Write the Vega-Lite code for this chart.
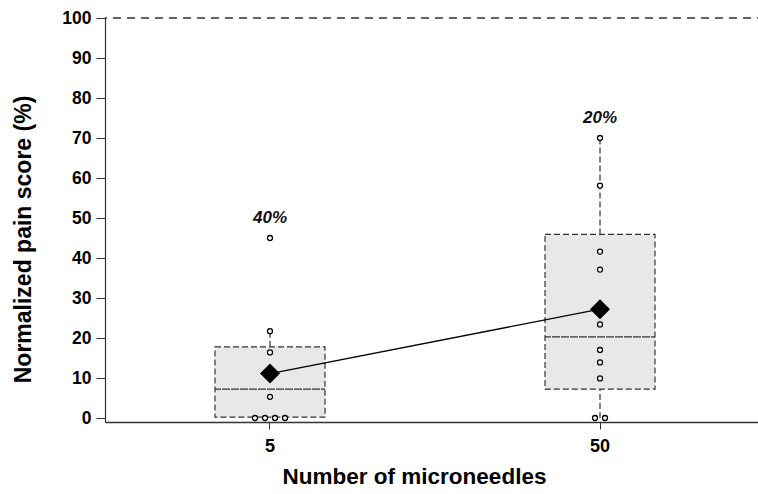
{
  "$schema": "https://vega.github.io/schema/vega-lite/v6.json",
  "width": 660,
  "height": 404,
  "autosize": {"type": "none"},
  "padding": {"left": 105, "top": 18, "right": 0, "bottom": 72},
  "config": {
    "view": {"stroke": null},
    "font": "Liberation Sans Narrow, Arial Narrow, Liberation Sans, Arial, sans-serif",
    "axisX": {
      "labelAngle": 0,
      "labelFontSize": 18,
      "labelFontWeight": "bold",
      "labelColor": "black",
      "labelPadding": 8,
      "tickSize": 7,
      "tickColor": "#333333",
      "domainColor": "#333333",
      "domainWidth": 1.5,
      "titleFontSize": 22.5,
      "titleFontWeight": "bold",
      "titleColor": "black",
      "titlePadding": 10,
      "titleX": 309,
      "grid": false
    },
    "axisY": {
      "labelFontSize": 17.5,
      "labelFontWeight": "bold",
      "labelColor": "black",
      "labelPadding": 5,
      "tickSize": 9,
      "tickColor": "#333333",
      "domainColor": "#333333",
      "domainWidth": 1.2,
      "titleFontSize": 23,
      "titleFontWeight": "bold",
      "titleColor": "black",
      "titlePadding": 26,
      "titleY": 221,
      "grid": false
    }
  },
  "datasets": {
    "stats": [
      {"group": "5", "q1": 0.2, "median": 7.2, "q3": 17.8, "lo": 0.2, "hi": 21.7, "mean": 11.1, "max": 45, "label": "40%"},
      {"group": "50", "q1": 7.2, "median": 20.3, "q3": 45.9, "lo": 0, "hi": 70, "mean": 27.2, "max": 70, "label": "20%"}
    ],
    "points": [
      {"group": "5", "score": 45, "jit": 0},
      {"group": "5", "score": 21.7, "jit": 0},
      {"group": "5", "score": 16.4, "jit": 0},
      {"group": "5", "score": 5.3, "jit": 0},
      {"group": "5", "score": 0, "jit": -1.5},
      {"group": "5", "score": 0, "jit": -0.5},
      {"group": "5", "score": 0, "jit": 0.5},
      {"group": "5", "score": 0, "jit": 1.5},
      {"group": "50", "score": 70, "jit": 0},
      {"group": "50", "score": 58.1, "jit": 0},
      {"group": "50", "score": 41.6, "jit": 0},
      {"group": "50", "score": 37.1, "jit": 0},
      {"group": "50", "score": 23.4, "jit": 0},
      {"group": "50", "score": 17.0, "jit": 0},
      {"group": "50", "score": 13.9, "jit": 0},
      {"group": "50", "score": 9.9, "jit": 0},
      {"group": "50", "score": 0, "jit": -0.5},
      {"group": "50", "score": 0, "jit": 0.5}
    ]
  },
  "layer": [
    {
      "data": {"name": "stats"},
      "mark": {"type": "rule", "color": "#333333", "strokeDash": [8, 6], "strokeWidth": 1},
      "encoding": {"y": {"datum": 100, "type": "quantitative", "scale": {"domain": [-1, 100], "nice": false, "zero": false}, "axis": {"title": "Normalized pain score (%)", "values": [0, 10, 20, 30, 40, 50, 60, 70, 80, 90, 100]}}}
    },
    {
      "data": {"name": "stats"},
      "mark": {"type": "rule", "color": "#333333", "strokeDash": [6, 3], "strokeWidth": 1.2},
      "encoding": {
        "x": {"field": "group", "type": "ordinal", "sort": ["5", "50"], "scale": {"type": "band", "paddingInner": 0.6667, "paddingOuter": 0.3333}, "axis": {"title": "Number of microneedles"}},
        "y": {"field": "q3", "type": "quantitative"},
        "y2": {"field": "hi"}
      }
    },
    {
      "data": {"name": "stats"},
      "mark": {"type": "rule", "color": "#333333", "strokeDash": [6, 3], "strokeWidth": 1.2},
      "encoding": {
        "x": {"field": "group", "type": "ordinal", "sort": ["5", "50"]},
        "y": {"field": "lo", "type": "quantitative"},
        "y2": {"field": "q1"}
      }
    },
    {
      "data": {"name": "stats"},
      "mark": {"type": "bar", "width": 110, "fill": "#e8e8e8", "stroke": "#333333", "strokeDash": [6, 3], "strokeWidth": 1.2},
      "encoding": {
        "x": {"field": "group", "type": "ordinal", "sort": ["5", "50"]},
        "y": {"field": "q1", "type": "quantitative"},
        "y2": {"field": "q3"}
      }
    },
    {
      "data": {"name": "stats"},
      "mark": {"type": "bar", "width": 110, "fill": null, "fillOpacity": 0, "stroke": "#333333", "strokeDash": [6, 3], "strokeWidth": 1.2},
      "encoding": {
        "x": {"field": "group", "type": "ordinal", "sort": ["5", "50"]},
        "y": {"field": "median", "type": "quantitative"},
        "y2": {"field": "median"}
      }
    },
    {
      "data": {"name": "points"},
      "mark": {"type": "point", "shape": "circle", "filled": false, "fill": "white", "fillOpacity": 1, "stroke": "black", "strokeWidth": 1.3, "size": 25, "opacity": 1},
      "encoding": {
        "x": {"field": "group", "type": "ordinal", "sort": ["5", "50"]},
        "xOffset": {"field": "jit", "type": "quantitative", "scale": {"domain": [-1.5, 1.5], "range": [40, 70]}},
        "y": {"field": "score", "type": "quantitative"}
      }
    },
    {
      "data": {"name": "stats"},
      "mark": {"type": "line", "color": "black", "strokeWidth": 1.3},
      "encoding": {
        "x": {"field": "group", "type": "ordinal", "sort": ["5", "50"]},
        "y": {"field": "mean", "type": "quantitative"}
      }
    },
    {
      "data": {"name": "stats"},
      "mark": {"type": "point", "shape": "diamond", "filled": true, "color": "black", "size": 400, "opacity": 1},
      "encoding": {
        "x": {"field": "group", "type": "ordinal", "sort": ["5", "50"]},
        "y": {"field": "mean", "type": "quantitative"}
      }
    },
    {
      "data": {"name": "stats"},
      "mark": {"type": "text", "fontWeight": "bold", "fontStyle": "italic", "fontSize": 17, "dy": -20, "baseline": "middle", "color": "#111111"},
      "encoding": {
        "x": {"field": "group", "type": "ordinal", "sort": ["5", "50"]},
        "y": {"field": "max", "type": "quantitative"},
        "text": {"field": "label"}
      }
    }
  ]
}
